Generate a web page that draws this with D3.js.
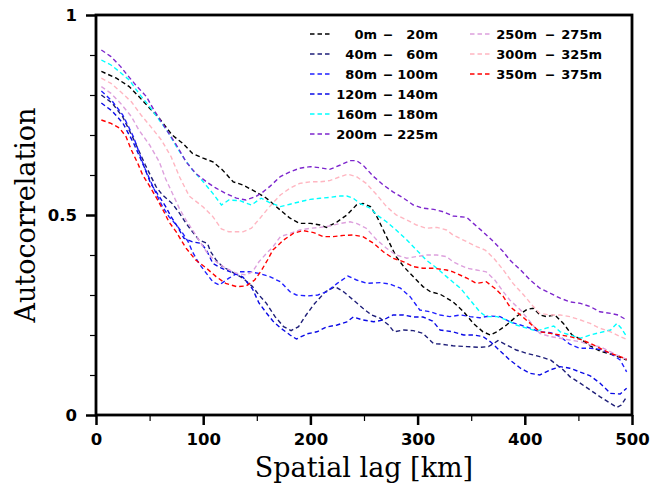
<!DOCTYPE html>
<html><head><meta charset="utf-8">
<script src="https://cdn.jsdelivr.net/npm/d3@7"></script>
<style>body{margin:0;background:#fff;} svg{display:block}</style>
</head><body><svg id="c" width="662" height="489"></svg>
<script>
// ---- data (lag km, autocorrelation) ----
const labels = ["0m - 20m","40m - 60m","80m - 100m","120m - 140m","160m - 180m","200m - 225m","250m - 275m","300m - 325m","350m - 375m"];
const colors = ["#000000","#1e1e78","#1f1fff","#0a0ae6","#00ffff","#7d26cd","#dda0dd","#ffb6c1","#ff0000"];

const d0_20 = [[5,.859],[19,.842],[31,.821],[40,.796],[50,.767],[59,.742],[71,.70],[81,.679],[90,.654],[100,.642],[109,.633],[118,.6125],[128,.583],[137,.575],[149,.558],[159,.542],[168,.521],[181,.492],[190,.479],[200,.479],[209,.475],[215,.469],[225,.483],[234,.50],[243,.525],[249,.529],[256,.521],[262,.496],[268,.4625],[274,.429],[280,.396],[287,.371],[293,.354],[299,.3375],[305,.321],[312,.308],[321,.302],[333,.283],[343,.258],[352,.229],[361,.208],[368,.20],[374,.208],[383,.225],[392,.246],[402,.264],[408,.267],[414,.25],[420,.246],[428,.25],[436,.229],[444,.20],[452,.19],[461,.173],[470,.16],[480,.152],[489,.144],[495,.1375]];
const d40_60 = [[5,.80],[15,.78],[25,.745],[35,.69],[46,.625],[56,.571],[62,.55],[71,.529],[78,.504],[84,.479],[90,.458],[96,.4375],[104,.429],[107,.408],[112,.3875],[118,.371],[128,.356],[137,.342],[146,.321],[152,.30],[159,.279],[167,.246],[175,.221],[182,.211],[189,.221],[196,.25],[204,.279],[214,.308],[223,.321],[231,.308],[240,.2875],[249,.267],[257,.25],[265,.242],[273,.225],[278,.208],[287,.2125],[296,.211],[305,.204],[315,.178],[321,.1775],[333,.173],[346,.171],[358,.169],[366,.171],[371,.179],[375,.186],[383,.175],[392,.1625],[402,.154],[414,.146],[424,.1375],[430,.125],[436,.1125],[442,.096],[452,.079],[461,.0625],[470,.046],[480,.029],[486,.019],[490,.025],[495,.045]];
const d80_100 = [[5,.81],[15,.785],[25,.75],[35,.695],[45,.62],[56,.554],[62,.521],[68,.496],[75,.475],[81,.454],[86,.433],[90,.408],[96,.379],[103,.354],[109,.333],[115,.325],[124,.342],[134,.358],[143,.358],[152,.354],[162,.346],[172,.333],[181,.308],[187,.30],[197,.2975],[207,.30],[215,.308],[225,.329],[235,.3475],[243,.3375],[253,.329],[265,.331],[274,.3275],[284,.317],[293,.296],[302,.2625],[312,.258],[321,.25],[330,.246],[340,.25],[349,.246],[358,.243],[367,.2475],[377,.246],[386,.233],[396,.225],[405,.217],[414,.208],[424,.206],[433,.196],[442,.177],[451,.167],[461,.167],[470,.164],[480,.154],[489,.1375],[495,.108]];
const d120_140 = [[5,.78],[15,.76],[25,.73],[35,.68],[45,.62],[51,.579],[59,.546],[65,.521],[70,.496],[76,.471],[82,.442],[90,.433],[98,.429],[103,.4125],[109,.379],[117,.367],[128,.355],[137,.345],[146,.315],[152,.28],[159,.255],[165,.235],[172,.218],[181,.20],[187,.19],[197,.203],[206,.208],[215,.22],[225,.225],[234,.233],[240,.245],[249,.2375],[259,.233],[268,.2375],[277,.25],[287,.25],[296,.245],[305,.245],[314,.235],[321,.2125],[333,.208],[343,.20],[352,.20],[361,.196],[368,.183],[377,.16],[386,.1375],[396,.117],[405,.104],[414,.10],[424,.113],[433,.121],[442,.117],[451,.108],[461,.098],[470,.08],[480,.054],[489,.0525],[495,.067]];
const d160_180 = [[5,.8875],[14,.875],[22,.858],[31,.8375],[40,.804],[50,.771],[59,.7375],[67,.708],[75,.671],[82,.642],[90,.6125],[100,.583],[109,.554],[117,.525],[124,.5375],[134,.536],[145,.525],[154,.542],[162,.531],[172,.521],[181,.527],[190,.533],[200,.539],[209,.542],[218,.544],[228,.5475],[234,.5475],[240,.542],[246,.529],[256,.517],[262,.50],[271,.483],[280,.4625],[290,.4375],[299,.4125],[308,.3875],[318,.367],[327,.346],[334,.33],[340,.317],[349,.2875],[358,.258],[364,.246],[374,.246],[383,.2375],[392,.225],[402,.217],[411,.21],[420,.217],[427,.2225],[433,.208],[442,.20],[452,.192],[461,.20],[470,.206],[480,.2125],[486,.229],[490,.217],[495,.196]];
const d200_225 = [[5,.9125],[14,.896],[23,.871],[28,.854],[37,.825],[47,.796],[54,.7625],[62,.729],[67,.708],[75,.675],[84,.633],[93,.604],[103,.583],[112,.567],[121,.554],[131,.542],[140,.5375],[149,.546],[155,.556],[162,.571],[172,.596],[181,.608],[190,.617],[200,.621],[209,.618],[218,.614],[228,.625],[237,.636],[243,.636],[249,.625],[259,.596],[268,.575],[277,.558],[287,.542],[296,.525],[305,.517],[315,.514],[324,.508],[333,.4975],[346,.494],[352,.479],[361,.458],[371,.433],[380,.408],[386,.3875],[396,.3625],[405,.3375],[414,.317],[424,.304],[433,.292],[442,.283],[452,.279],[461,.271],[470,.258],[480,.254],[487,.25],[495,.2375]];
const d250_275 = [[5,.821],[14,.804],[23,.779],[33,.746],[40,.7125],[50,.675],[59,.633],[65,.59],[72,.55],[78,.515],[84,.487],[90,.4625],[96,.4375],[103,.408],[112,.383],[121,.367],[131,.354],[140,.35],[146,.358],[152,.383],[159,.404],[165,.42],[172,.446],[181,.454],[190,.4625],[200,.467],[209,.469],[218,.4725],[228,.479],[237,.483],[243,.479],[252,.467],[262,.4375],[271,.417],[280,.40],[290,.392],[299,.396],[308,.40],[318,.40],[327,.396],[333,.383],[346,.367],[355,.3625],[364,.358],[372,.3375],[380,.308],[386,.2875],[396,.2625],[405,.233],[414,.204],[424,.196],[433,.192],[442,.1875],[452,.183],[461,.175],[470,.171],[480,.158],[489,.146],[495,.139]];
const d300_325 = [[5,.842],[14,.829],[23,.808],[33,.783],[42,.75],[51,.721],[61,.6875],[70,.646],[78,.595],[87,.547],[100,.52],[109,.496],[117,.465],[124,.458],[137,.458],[145,.467],[153,.492],[162,.521],[172,.55],[181,.567],[190,.579],[200,.583],[209,.583],[218,.586],[228,.596],[235,.602],[243,.596],[252,.579],[262,.55],[271,.521],[280,.50],[290,.4875],[299,.475],[308,.467],[318,.469],[327,.4625],[333,.45],[346,.433],[355,.421],[363,.4125],[371,.392],[380,.3625],[389,.329],[399,.30],[408,.271],[414,.254],[424,.25],[433,.25],[442,.246],[452,.2375],[461,.229],[470,.217],[480,.208],[489,.196],[495,.189]];
const d350_375 = [[5,.7375],[14,.729],[22,.717],[28,.696],[33,.6625],[39,.629],[43.5,.60],[50,.572],[57,.54],[63,.51],[68,.483],[75,.457],[84,.417],[93,.3875],[103,.367],[112,.346],[121,.329],[131,.321],[140,.3225],[148,.3375],[154,.36],[160,.3875],[165,.4125],[175,.4375],[184,.454],[193,.461],[203,.456],[212,.446],[221,.446],[231,.449],[240,.45],[249,.446],[259,.429],[268,.408],[277,.392],[287,.383],[296,.371],[305,.367],[315,.367],[327,.3625],[333,.358],[346,.342],[355,.329],[364,.333],[372,.317],[380,.296],[386,.271],[396,.25],[405,.229],[414,.208],[424,.204],[433,.20],[442,.196],[452,.189],[461,.179],[470,.167],[480,.154],[489,.146],[495,.139]];

const seriesValues = [d0_20,d40_60,d80_100,d120_140,d160_180,d200_225,d250_275,d300_325,d350_375];

const xMajor = [0,100,200,300,400,500];
const xTickLabels = ["0","100","200","300","400","500"];
const xMinor = [50,150,250,350,450];
const yMajor = [0,0.5,1];
const yTickLabels = ["0","0.5","1"];
const yMinor = [0.1,0.2,0.3,0.4,0.6,0.7,0.8,0.9];

// ---- drawing ----
const svg = d3.select("#c");
const L=96, R=632, T=15, B=415;
const x = d3.scaleLinear().domain([0,500]).range([L,R]);
const y = d3.scaleLinear().domain([0,1]).range([B,T]);

svg.append("defs").append("clipPath").attr("id","clip")
  .append("rect").attr("x",L).attr("y",T).attr("width",R-L).attr("height",B-T);

const line = d3.line().x(d=>x(d[0])).y(d=>y(d[1]));
const gl = svg.append("g").attr("clip-path","url(#clip)");
seriesValues.forEach((s,i)=>{
  gl.append("path").attr("d",line(s)).attr("fill","none")
    .attr("stroke",colors[i]).attr("stroke-width",1.4)
    .attr("stroke-dasharray","4.5,3");
});

const tickFont = "DejaVu Sans, sans-serif";
function styleAxis(g, major){
  g.select(".domain").remove();
  g.selectAll(".tick line").attr("stroke","#000").attr("stroke-width", major?2.5:1.2);
  g.selectAll(".tick text").attr("fill","#000").attr("font-family",tickFont)
    .attr("font-weight","bold").attr("font-size",16.5);
}
svg.append("g").attr("transform",`translate(0,${B})`)
  .call(d3.axisBottom(x).tickValues(xMinor).tickSize(6).tickFormat(""))
  .call(g=>styleAxis(g,false));
svg.append("g").attr("transform",`translate(0,${B})`)
  .call(d3.axisBottom(x).tickValues(xMajor).tickSize(10).tickPadding(8).tickFormat((d,i)=>xTickLabels[i]))
  .call(g=>styleAxis(g,true));
svg.append("g").attr("transform",`translate(${L},0)`)
  .call(d3.axisLeft(y).tickValues(yMinor).tickSize(6).tickFormat(""))
  .call(g=>styleAxis(g,false));
svg.append("g").attr("transform",`translate(${L},0)`)
  .call(d3.axisLeft(y).tickValues(yMajor).tickSize(10).tickPadding(9).tickFormat((d,i)=>yTickLabels[i]))
  .call(g=>styleAxis(g,true));

svg.append("rect").attr("x",L).attr("y",T).attr("width",R-L).attr("height",B-T)
  .attr("fill","none").attr("stroke","#000").attr("stroke-width",2.8);

// titles
svg.append("text").attr("x",(L+R)/2).attr("y",477).attr("text-anchor","middle")
  .attr("font-family","DejaVu Serif, serif").attr("font-size",27).text("Spatial lag [km]");
svg.append("text").attr("transform",`translate(35,${(T+B)/2}) rotate(-90)`).attr("text-anchor","middle")
  .attr("font-family","DejaVu Serif, serif").attr("font-size",27).text("Autocorrelation");

// legend
const lg = svg.append("g");
labels.forEach((lab,i)=>{
  const col = i<6?0:1, row = i<6?i:i-6;
  const x0 = col===0?310:470, yy = 34 + row*20;
  const dashOff = col===0?73:75, endOff = col===0?128:132;
  lg.append("line").attr("x1",x0).attr("x2",x0+22).attr("y1",yy).attr("y2",yy)
    .attr("stroke",colors[i]).attr("stroke-width",1.4).attr("stroke-dasharray","4.5,3");
  const parts = lab.split(" - ");
  const tf = t=>t.attr("font-family",tickFont).attr("font-weight","bold").attr("font-size",13).attr("fill","#000");
  lg.append("text").attr("x",x0+67).attr("y",yy+5).attr("text-anchor","end").text(parts[0]).call(tf);
  lg.append("text").attr("x",x0+dashOff).attr("y",yy+5).attr("textLength",10).attr("lengthAdjust","spacingAndGlyphs").text("–").call(tf);
  lg.append("text").attr("x",x0+endOff).attr("y",yy+5).attr("text-anchor","end").text(parts[1]).call(tf);
});
</script></body></html>
